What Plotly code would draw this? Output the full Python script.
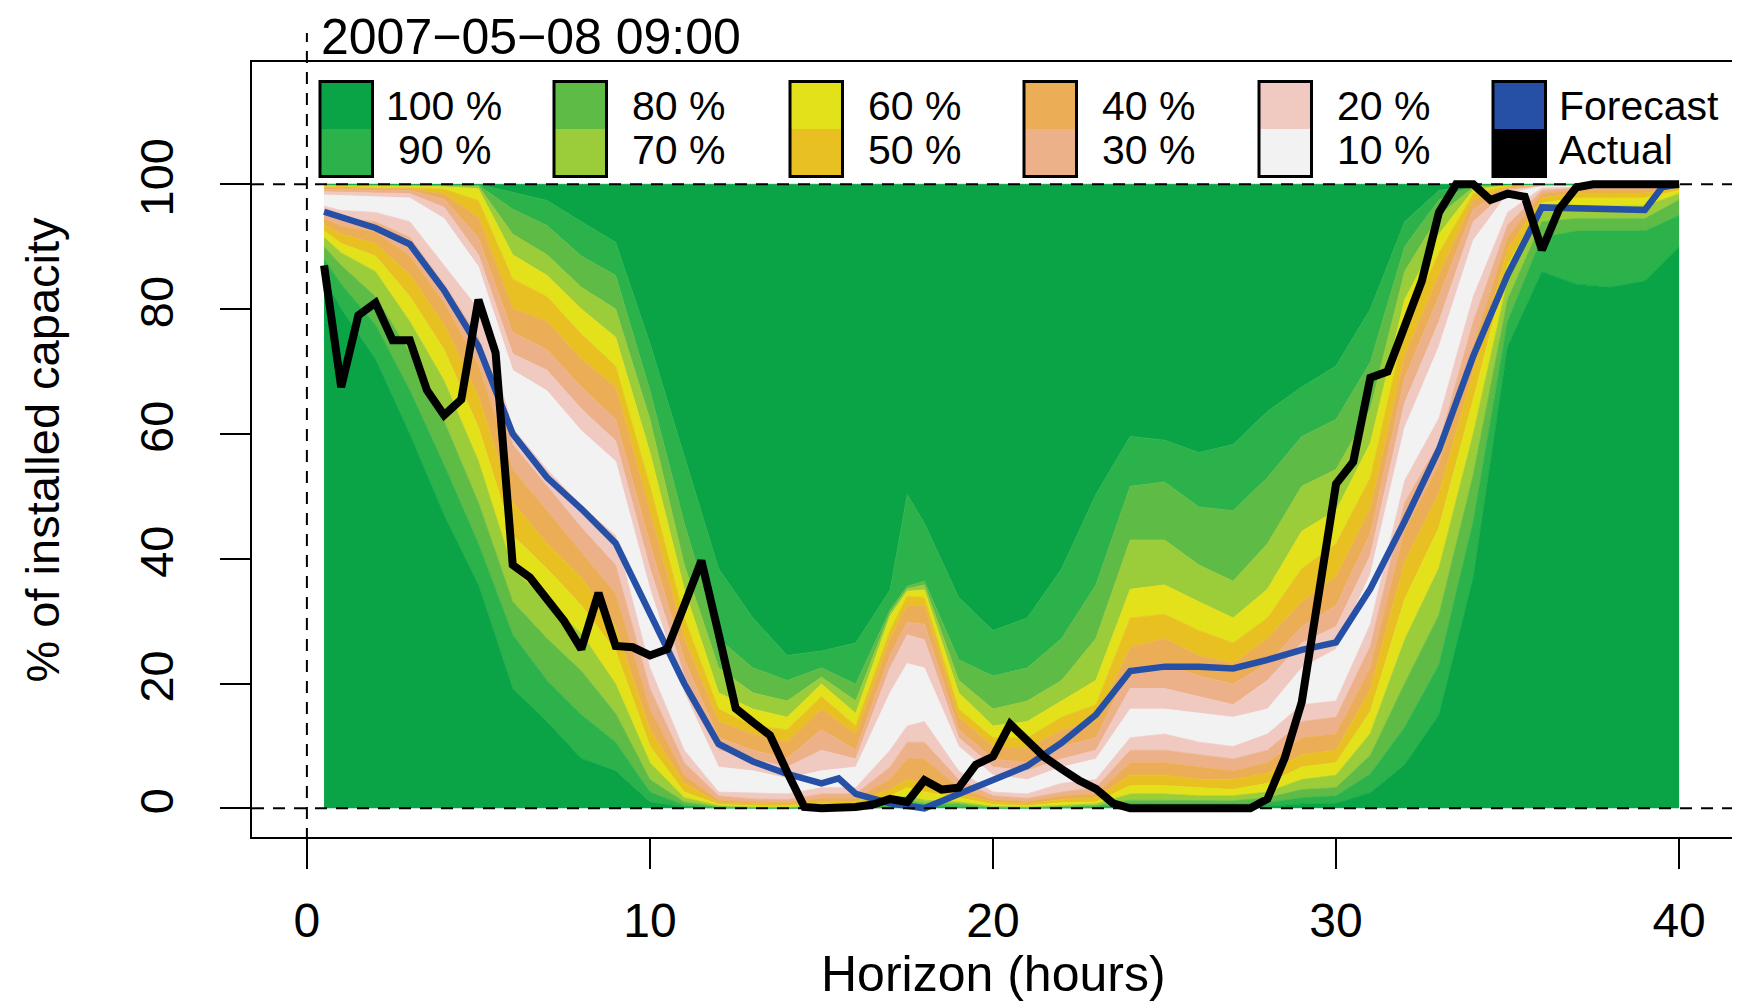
import plotly.graph_objects as go

# ---------------- data ----------------
fan_h = [0.5, 1, 2, 3, 4, 5, 6, 7, 8, 9, 10, 11, 12, 13, 14, 15, 16, 17, 17.5, 18,
         19, 20, 21, 22, 23, 24, 25, 26, 27, 28, 29, 30, 31, 32, 33, 34, 35, 36, 37, 38, 39, 40]

q05 = [85, 80, 72, 60, 47, 35.8, 19.2, 13.9, 8, 6, 1, 0.2, 0.05, 0, 0, 0.05, 0.05, 0.1, 0.2, 0.2, 0.1, 0, 0, 0.05, 0.1, 0.3, 0.2, 0.2, 0.2, 0.3, 0.7, 0.8, 2.5, 7, 15, 37, 74, 86, 84, 83.5, 84.5, 90]
q10 = [88, 84, 77.5, 67, 55, 42.4, 27.8, 20.5, 15, 10.6, 2.6, 0.5, 0.1, 0.05, 0.05, 0.1, 0.1, 0.3, 0.7, 0.5, 0.3, 0.05, 0.05, 0.1, 0.2, 0.8, 0.7, 0.7, 0.7, 0.9, 1.7, 2, 5.5, 13, 23, 46, 78, 91.5, 92.5, 92.5, 92.5, 95]
q15 = [90, 87, 82, 73, 62, 49, 33.1, 27.2, 22, 15.2, 4.6, 1, 0.2, 0.1, 0.1, 0.2, 0.2, 0.7, 1.3, 0.8, 0.7, 0.1, 0.1, 0.3, 0.4, 1.3, 1.3, 1.2, 1.2, 1.7, 3, 3.3, 8.5, 20, 31, 53.5, 81.5, 94, 94.5, 94.5, 94.5, 97.5]
q20 = [91.5, 89, 86, 78, 68.5, 55.6, 38.4, 33.1, 28, 19.9, 7.3, 1.7, 0.4, 0.2, 0.2, 0.4, 0.4, 1.3, 2, 1.3, 1, 0.3, 0.2, 0.5, 0.7, 2.3, 2.3, 2, 2, 2.6, 4.6, 5.3, 12, 27, 38.5, 60, 84.5, 95.8, 96.5, 96.5, 96.5, 98.5]
q25 = [92.5, 90.5, 88.5, 82, 73.5, 61, 43.7, 38.4, 32.5, 25.2, 9.9, 2.6, 0.6, 0.4, 0.35, 0.7, 0.7, 2, 3.3, 2.6, 1.7, 0.6, 0.4, 0.9, 1, 3.6, 3.6, 3.3, 3, 4, 6.6, 7.3, 15.5, 33.5, 45, 65.5, 87, 97, 97.8, 97.8, 97.8, 99]
q30 = [93.5, 92, 90.5, 85.5, 77.5, 66, 49, 42.4, 37, 29.1, 12.6, 4, 0.9, 0.7, 0.6, 1.1, 1.1, 3, 4.6, 4, 2.3, 1, 0.7, 1.4, 1.7, 5.3, 5.3, 4.6, 4.6, 5.6, 8.6, 9.3, 19, 39.5, 50.5, 70, 89.5, 97.8, 98.6, 98.6, 98.6, 99.4]
q35 = [94.5, 93.3, 92.3, 88.5, 81, 71, 54.3, 47.7, 41, 34.4, 15.9, 5.3, 1.3, 1, 0.9, 1.6, 1.6, 4.6, 7.9, 7.9, 3.3, 1.4, 1.1, 2, 2.3, 7.3, 7.3, 6.6, 6, 7.3, 11.3, 11.9, 22.5, 44.5, 55, 74, 91.5, 98.5, 99.1, 99.1, 99.1, 99.6]
q40 = [95.5, 94.5, 94, 91.5, 84, 75.5, 58.3, 51.7, 45, 39, 19.2, 7.3, 2, 1.5, 1.4, 2.3, 2.3, 6.6, 10.6, 10.6, 4.6, 2, 1.6, 2.6, 3.3, 9.3, 9.3, 8.6, 7.9, 9.3, 13.9, 14.6, 26, 49, 58.5, 78, 93.5, 99, 99.4, 99.4, 99.4, 99.8]
q45 = [96.5, 95.8, 95.5, 94, 87, 80, 60.9, 54.3, 48.5, 43.7, 22.5, 9.3, 2.6, 2.4, 2.3, 3.3, 3.3, 9.3, 13.2, 13.9, 6, 2.6, 2.3, 4, 4.6, 11.3, 11.9, 10.6, 9.9, 11.9, 16.6, 17.2, 29.5, 52.5, 62.5, 82, 95.5, 99.4, 99.6, 99.6, 99.6, 99.9]
q55 = [98.3, 98.2, 98, 97.8, 94.5, 86.8, 70.2, 66.9, 60.5, 55.6, 35.1, 18.5, 6.6, 6, 4.8, 6, 6.6, 18.5, 23.2, 22.5, 9.9, 5.3, 4.6, 6.6, 7.9, 15.9, 15.9, 15.2, 14.6, 15.9, 22.5, 25.5, 37.5, 61, 74, 91, 98.5, 99.7, 99.8, 99.8, 99.8, 100]
q60 = [98.8, 98.7, 98.6, 98.5, 96.3, 88.7, 72.8, 70.2, 64, 58.9, 38.4, 21.2, 9.3, 7.9, 6.6, 9.3, 7.9, 22.5, 27.8, 27, 11.3, 6.6, 6, 7.9, 9.3, 19.2, 19.2, 17.9, 16.6, 20.5, 26.5, 29.1, 40.5, 65, 78, 94, 99, 99.8, 99.85, 99.85, 99.85, 100]
q65 = [99.2, 99.1, 99, 99, 97.6, 91.4, 76.2, 73.5, 67.5, 62.3, 42.4, 23.8, 11.3, 9.3, 8, 12.6, 9.3, 24.5, 29.8, 29.5, 12.6, 7.9, 7.3, 9.9, 11.3, 22.5, 23.2, 21.2, 19.9, 23.2, 29.1, 32.5, 44, 69, 82, 96, 99.3, 99.85, 99.9, 99.9, 99.9, 100]
q70 = [99.5, 99.4, 99.3, 99.3, 98.5, 94.7, 80.1, 78, 72, 67.5, 47.7, 27.2, 13.9, 11.9, 10.6, 15.9, 11.9, 27.2, 32.5, 32.5, 14.6, 9.9, 9.6, 12.6, 13.9, 25.8, 27.2, 24.5, 23.2, 27.2, 33.1, 37.1, 48, 72.5, 85.5, 97.5, 99.5, 99.9, 99.92, 99.92, 99.92, 100]
q75 = [99.7, 99.6, 99.5, 99.5, 99.2, 97.4, 84.8, 82, 76, 70.9, 51.7, 30.5, 15.9, 13.2, 12.6, 17.9, 13.2, 28.5, 34, 33.8, 15.9, 11.3, 11.3, 14.6, 16.6, 30.5, 31.1, 28.5, 26.5, 30.5, 38.4, 42.4, 53, 77, 89, 98.5, 99.7, 99.93, 99.94, 99.94, 99.94, 100]
q80 = [99.8, 99.8, 99.7, 99.7, 99.6, 99.3, 88.7, 85.4, 80, 75.5, 57, 35.1, 18.5, 15.9, 14.6, 19.9, 15.2, 30.8, 34.8, 35, 18.5, 13.2, 13.9, 17.2, 20.5, 35.1, 35.8, 33.1, 30.5, 35.1, 44.4, 47.7, 58.5, 81.5, 92, 99.1, 99.8, 99.95, 99.96, 99.96, 99.96, 100]
q85 = [99.9, 99.9, 99.8, 99.8, 99.8, 99.7, 92, 88.7, 83.5, 80, 62.3, 39, 22.5, 18.5, 17.2, 21, 17.2, 31.3, 35.2, 35.8, 20.5, 15.9, 17.2, 20.5, 27.2, 43, 43, 39, 36.4, 42.4, 51.6, 54.3, 64, 86, 95, 99.5, 99.9, 99.97, 99.97, 99.97, 99.97, 100]
q90 = [99.95, 99.95, 99.9, 99.9, 99.9, 99.85, 96, 93.4, 88.5, 85.4, 66.9, 45.7, 27.2, 22.5, 20.5, 22.5, 19.9, 31.8, 35.6, 36.4, 23.8, 21.2, 22.5, 27.2, 35.8, 51.6, 52.3, 48.3, 47.7, 53, 59.6, 62.3, 71.5, 90, 97.5, 99.8, 99.95, 99.98, 99.98, 99.98, 99.98, 100]
q95 = [100, 100, 100, 100, 100, 99.95, 98.7, 97.4, 94, 90.7, 74.5, 56.3, 38.4, 30.5, 24.5, 25.2, 26.5, 35, 50.3, 45.7, 33.8, 28.5, 30.5, 38.4, 50.3, 59.6, 59, 57, 58.3, 63.6, 67.5, 70.9, 80, 94, 99, 99.9, 100, 100, 100, 100, 100, 100]

forecast_h = [0.5, 1, 2, 3, 4, 5, 6, 7, 8, 9, 10, 11, 12, 13, 14, 15, 15.5, 16, 17, 18,
              19, 20, 21, 22, 23, 24, 25, 26, 27, 28, 29, 30, 31, 32, 33, 34, 35, 36, 37, 38, 39, 39.5, 40]
forecast = [95.6, 94.8, 93, 90.4, 83, 74, 60, 53, 48, 42.5, 31, 20, 10.3, 7.5, 5.5, 4, 4.8, 2.3, 0.8, 0,
            2.3, 4.6, 6.8, 10.5, 15, 22, 22.7, 22.7, 22.4, 23.8, 25.4, 26.6, 35.2, 46, 57.5, 72.5, 85.5, 96.3, 96.2, 96, 95.9, 99.5, 100]

actual_h = [0.5 * i for i in range(1, 81)]
actual = [87, 67.5, 79, 81, 75, 75, 67, 63, 65.5, 81.5,
          73, 39, 37, 33.5, 30, 25.5, 34.5, 26, 25.8, 24.5,
          25.5, 32.5, 39.7, 28, 16, 13.8, 11.7, 5.8, 0.2, 0,
          0, 0.2, 0.6, 1.5, 1, 4.5, 3, 3.3, 7, 8.3,
          13.5, 11, 8.2, 6.3, 4.5, 3.1, 0.8, 0, 0, 0,
          0, 0, 0, 0, 0, 1.5, 8, 17, 35, 52,
          55.5, 69, 70, 77.5, 84.5, 95.5, 100, 100, 97.5, 98.5,
          98, 89.5, 96, 99.5, 100, 100, 100, 100, 100, 100]

band_labels = ["100 %", "90 %", "80 %", "70 %", "60 %", "50 %", "40 %", "30 %", "20 %", "10 %"]
x_ticks = [0, 10, 20, 30, 40]
y_ticks = [0, 20, 40, 60, 80, 100]
title_text = "2007\u221205\u221208 09:00"

# ---------------- style ----------------
C = {
    "100": "#0AA447", "90": "#2BB24B", "80": "#5EBB46", "70": "#9BCC3A", "60": "#E3E11A",
    "50": "#E8C021", "40": "#EBAE56", "30": "#EDB189", "20": "#F0C9C0", "10": "#F2F2F2",
}
BLUE = "#2550A6"
FONT = "Liberation Sans, Arial, Helvetica, sans-serif"

# the page body has an 8px margin, so the figure is drawn 8px in from the top-left
OFF = 8
W, H = 1740 - OFF, 1004 - OFF
REF_L, REF_T, REF_R, REF_B = 252, 62, 1734, 837   # plot frame in page pixels
ML, MT = REF_L - OFF, REF_T - OFF
MR = W - (REF_R - OFF)
MB = H - (REF_B - OFF)
PW = REF_R - REF_L
PH = REF_B - REF_T
X_RANGE = [-1.6, 41.6]
Y_RANGE = [-4.6, 119.6]


def px_x(px):
    return (px - REF_L) / PW


def px_y(py):
    return (REF_B - py) / PH


fig = go.Figure()

levels = [q05, q10, q15, q20, q25, q30, q35, q40, q45, q55, q60, q65, q70, q75, q80, q85, q90, q95]
fill_cols = [C["100"], C["90"], C["80"], C["70"], C["60"], C["50"], C["40"], C["30"], C["20"], C["10"],
             C["20"], C["30"], C["40"], C["50"], C["60"], C["70"], C["80"], C["90"]]

n = len(fan_h)
fig.add_trace(go.Scatter(x=fan_h, y=[0] * n, mode="lines", line=dict(width=0, color=C["100"]),
                         hoverinfo="skip", showlegend=False))
for lev, col in zip(levels, fill_cols):
    fig.add_trace(go.Scatter(x=fan_h, y=lev, mode="lines", fill="tonexty", fillcolor=col,
                             line=dict(width=0.8, color=col), hoverinfo="skip", showlegend=False))
fig.add_trace(go.Scatter(x=fan_h, y=[100] * n, mode="lines", fill="tonexty", fillcolor=C["100"],
                         line=dict(width=0.8, color=C["100"]), hoverinfo="skip", showlegend=False))

fig.add_trace(go.Scatter(x=forecast_h, y=forecast, mode="lines",
                         line=dict(color=BLUE, width=6.5), showlegend=False))
fig.add_trace(go.Scatter(x=actual_h, y=actual, mode="lines",
                         line=dict(color="black", width=8), showlegend=False))

shapes = []
for yv in (0, 100):
    shapes.append(dict(type="line", xref="paper", yref="y", x0=0, x1=1, y0=yv, y1=yv,
                       line=dict(color="black", width=2, dash="12px,9px")))
x0p = (0 - X_RANGE[0]) / (X_RANGE[1] - X_RANGE[0])
shapes.append(dict(type="line", xref="paper", yref="paper", x0=x0p, x1=x0p, y0=px_y(840), y1=px_y(33),
                   line=dict(color="black", width=2, dash="12px,9px")))

# legend boxes
box_left = [320, 554, 790, 1024, 1259, 1493]
box_w = 52.5
b_top, b_mid, b_bot = 81.5, 129, 176.5
pairs = [("100", "90"), ("80", "70"), ("60", "50"), ("40", "30"), ("20", "10")]
box_cols = [(C[a], C[b]) for a, b in pairs] + [(BLUE, "#000000")]
annotations = []
row_y = [106, 150]
for i, bl in enumerate(box_left):
    ctop, cbot = box_cols[i]
    shapes.append(dict(type="rect", xref="paper", yref="paper", x0=px_x(bl), x1=px_x(bl + box_w),
                       y0=px_y(b_mid), y1=px_y(b_top), fillcolor=ctop, line=dict(width=0)))
    shapes.append(dict(type="rect", xref="paper", yref="paper", x0=px_x(bl), x1=px_x(bl + box_w),
                       y0=px_y(b_bot), y1=px_y(b_mid), fillcolor=cbot, line=dict(width=0)))
    shapes.append(dict(type="rect", xref="paper", yref="paper", x0=px_x(bl), x1=px_x(bl + box_w),
                       y0=px_y(b_bot), y1=px_y(b_top), line=dict(color="black", width=3)))
    if i < 5:
        labs = [band_labels[2 * i], band_labels[2 * i + 1]]
    else:
        labs = ["Forecast", "Actual"]
    for j, lab in enumerate(labs):
        tx = bl + box_w + 11.5
        if i < 5 and len(lab.split(" ")[0]) == 2:
            tx += 11.7
        annotations.append(dict(text=lab, xref="paper", yref="paper", x=px_x(tx), y=px_y(row_y[j]),
                                xanchor="left", yanchor="middle", showarrow=False,
                                font=dict(family=FONT, size=41, color="black")))

annotations.append(dict(text=title_text, xref="paper", yref="paper", x=px_x(320), y=px_y(37),
                        xanchor="left", yanchor="middle", showarrow=False, borderpad=0,
                        font=dict(family=FONT, size=50, color="black")))
annotations.append(dict(text="Horizon (hours)", xref="paper", yref="paper", x=0.5, y=px_y(974),
                        xanchor="center", yanchor="middle", showarrow=False, borderpad=0,
                        font=dict(family=FONT, size=50, color="black")))
annotations.append(dict(text="% of installed capacity", xref="paper", yref="paper", x=px_x(42), y=0.5,
                        xanchor="center", yanchor="middle", showarrow=False, textangle=-90,
                        font=dict(family=FONT, size=47, color="black")))

fig.update_layout(
    width=W, height=H,
    margin=dict(l=ML, r=MR, t=MT, b=MB, pad=0),
    paper_bgcolor="white", plot_bgcolor="white",
    showlegend=False,
    shapes=shapes,
    annotations=annotations,
    xaxis=dict(range=X_RANGE, tickvals=x_ticks, ticks="outside", ticklen=30, tickwidth=2,
               tickcolor="black", showline=True, linecolor="black", linewidth=2, mirror=True,
               showgrid=False, zeroline=False, ticklabelstandoff=10,
               tickfont=dict(family=FONT, size=48, color="black"), automargin=False),
    yaxis=dict(range=Y_RANGE, tickvals=y_ticks, ticks="outside", ticklen=30, tickwidth=2,
               tickcolor="black", showline=True, linecolor="black", linewidth=2, mirror=True,
               showgrid=False, zeroline=False, tickangle=-90, ticklabelstandoff=28,
               tickfont=dict(family=FONT, size=47, color="black"), automargin=False),
)

fig.write_html("out.html")
